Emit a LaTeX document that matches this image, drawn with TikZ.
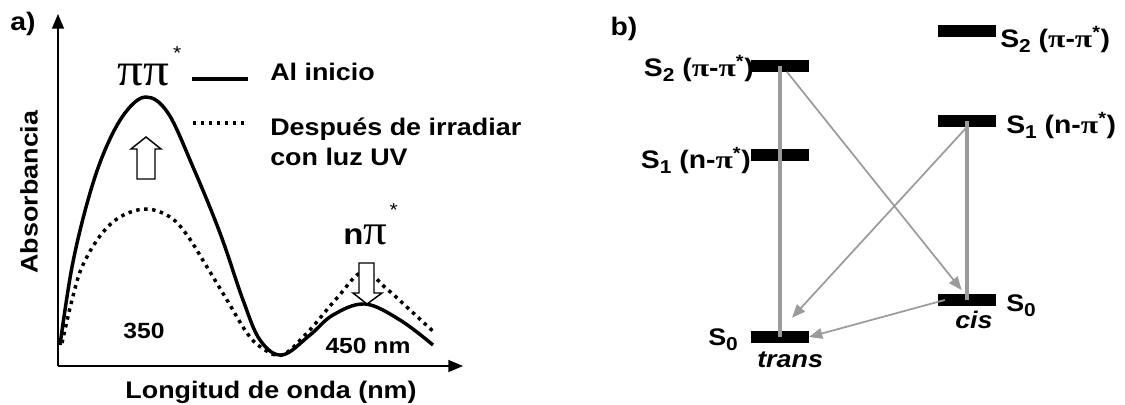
\documentclass[tikz,border=0pt]{standalone}
\usepackage{fontspec}
\setmainfont{Liberation Sans}[FakeStretch=1.12]
\newfontfamily\grk{Liberation Serif}[FakeStretch=1.1]
\newfontfamily\grkwide{Liberation Serif}[FakeStretch=1.25]
\usetikzlibrary{arrows.meta,positioning}
\definecolor{levelgray}{RGB}{155,155,155}
\newcommand{\spi}{{\grkwide π}}
\newcommand{\lowidx}[1]{\raisebox{-0.22em}{\fontsize{14}{14}\selectfont #1}}

\begin{document}
\begin{tikzpicture}[x=0.75pt,y=-0.75pt]
\tikzset{
  lbl/.style={font=\fontsize{18}{22.5}\selectfont\bfseries,inner sep=0pt},
  bandlbl/.style={font=\fontsize{16.5}{18}\selectfont\bfseries,inner sep=0pt},
  statelbl/.style={font=\fontsize{19}{22}\selectfont\bfseries,inner sep=0pt},
  groundlbl/.style={font=\fontsize{18}{20}\selectfont\bfseries,inner sep=0pt},
  isomer/.style={font=\fontsize{18}{20}\selectfont\bfseries\itshape,inner sep=0pt},
  initial/.style={line width=2.6pt},
  irradiated/.style={line width=2.6pt,dash pattern=on 2.6pt off 3.4pt},
  axis/.style={line width=1.1pt,-{Triangle[length=11pt,width=9pt]}},
  hollow/.style={draw,fill=white,line width=1.1pt,line join=miter},
  level/.style={fill=black,minimum width=43pt,minimum height=8.5pt,inner sep=0pt},
  decay/.style={draw=levelgray,line width=1.3pt,-{Triangle[length=10pt,width=8pt]}},
  absorb/.style={draw=levelgray,line width=3.5pt}
}
\useasboundingbox (0,0) rectangle (1125,404);

% a) spectra
\coordinate (origin) at (58,366);
\coordinate (ytip) at (58,14);
\coordinate (xtip) at (463,366);
\draw[axis] (origin) -- (ytip);
\draw[axis] (origin) -- (xtip);

\draw[initial] plot[smooth,tension=0.6] coordinates {(60,345) (72,267) (88,200) (105,150) (125,113) (146,97)
  (168,113) (193,167) (220,233) (243,300) (260,340) (282,355) (310,335) (333,315) (365,304) (400,320) (433,345)};
\draw[irradiated] plot[smooth,tension=0.6] coordinates {(62,343) (72,300) (82,267) (100,236) (120,217) (146,209)
  (170,217) (187,235) (207,267) (227,300) (247,333) (262,348) (282,355) (307,333) (337,298) (363,272)
  (388,290) (410,310) (435,333)};

\draw[hollow] (137,179) -- (137,149) -- (131,149) -- (146,137) -- (161,149) -- (155,149) -- (155,179) -- cycle;
\draw[hollow] (359,263) -- (359,293) -- (353,293) -- (367,304) -- (382,293) -- (374,293) -- (374,263) -- cycle;

\node[lbl,font=\fontsize{19}{22}\selectfont\bfseries] (panelA) at (23,24) {a)};
\node[lbl,rotate=90] (ylab) at (29,192) {Absorbancia};
\node[lbl] (xlab) at (271,392) {Longitud de onda (nm)};
\node[bandlbl] (band1) at (144,331) {350};
\node[bandlbl] (band2) at (368,346) {450 nm};
\node[inner sep=0pt,anchor=base west] (pipi) at (117,85)
  {{\grk\fontsize{35}{35}\selectfont ππ}\hspace{3pt}\raisebox{19pt}{\fontsize{14}{14}\selectfont *}};
\node[inner sep=0pt,anchor=base west] (npi) at (343,244)
  {{\fontsize{22}{22}\selectfont\bfseries n}{\grk\fontsize{32}{32}\selectfont π}\hspace{2pt}\raisebox{21pt}{\fontsize{14}{14}\selectfont *}};

% legend
\draw[initial] (192,79) -- (248,79);
\draw[irradiated] (193,123) -- (248,123);
\node[lbl,anchor=west] (leg1) at (270,72) {Al inicio};
\node[lbl,anchor=west,align=left] (leg2) at (270,142) {Después de irradiar\\con luz UV};

% b) levels
\node[lbl,font=\fontsize{19}{22}\selectfont\bfseries] (panelB) at (624,29) {b)};
\node[level] (tS2) at (780,66) {};
\node[level] (tS1) at (780,155) {};
\node[level] (tS0) at (780,337) {};
\node[level] (cS2) at (967,31) {};
\node[level] (cS1) at (967,121) {};
\node[level] (cS0) at (967,300) {};

\node[statelbl,anchor=base east] (tS2lbl) at (754,76) {S\lowidx{2} (\spi-\spi\textsuperscript{*})};
\node[statelbl,anchor=base east] (tS1lbl) at (751,168) {S\lowidx{1} (n-\spi\textsuperscript{*})};
\node[statelbl,anchor=base west] (cS2lbl) at (1000,47) {S\lowidx{2} (\spi-\spi\textsuperscript{*})};
\node[statelbl,anchor=base west] (cS1lbl) at (1006,133) {S\lowidx{1} (n-\spi\textsuperscript{*})};
\node[groundlbl,anchor=base west] (tS0lbl) at (708,345) {S\lowidx{0}};
\node[groundlbl,anchor=base west] (cS0lbl) at (1006,311) {S\lowidx{0}};
\node[isomer,anchor=base west] (trans) at (757,367) {trans};
\node[isomer,anchor=base west] (cis) at (955,328) {cis};

\draw[absorb] (tS2.center) -- (tS0.center);
\draw[absorb] (cS1.center) -- (cS0.center);
\draw[decay] ([xshift=5.25pt]tS2.south) -- ([xshift=-4pt,yshift=3pt]cS0.north);
\draw[decay] (cS1.south) -- ([xshift=9pt,yshift=10pt]tS0.north);
\draw[decay] ([xshift=5pt]cS0.west) -- (tS0.east);
\end{tikzpicture}
\end{document}
